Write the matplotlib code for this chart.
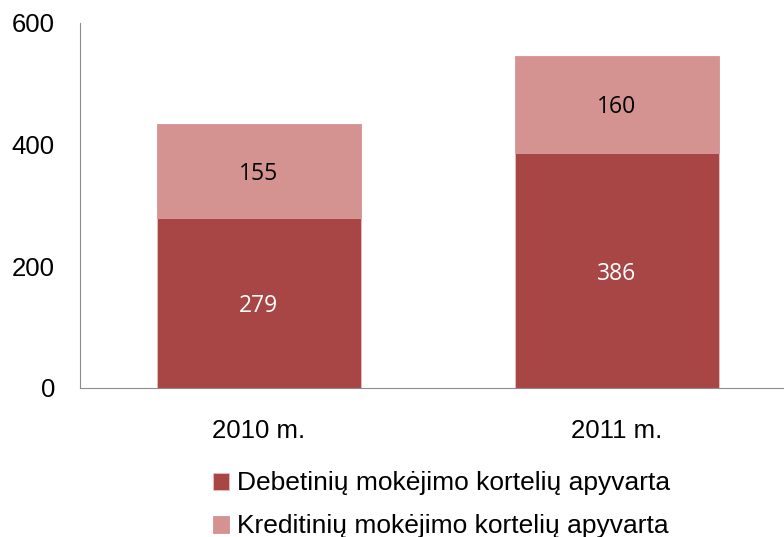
import matplotlib.pyplot as plt
import numpy as np

categories = ["2010 m.", "2011 m."]
debit = [279, 386]
credit = [155, 160]
series_names = ["Debetinių mokėjimo kortelių apyvarta", "Kreditinių mokėjimo kortelių apyvarta"]
y_ticks = [0, 200, 400, 600]

dark = "#A84645"
light = "#D49391"

fig = plt.figure(figsize=(7.84, 5.37), dpi=100)
ax = fig.add_axes([0.102, 0.2775, 0.913, 0.68])

x = np.arange(len(categories))
b1 = ax.bar(x, debit, width=0.57, color=dark, edgecolor="#E8C0BF", linewidth=0.6)
b2 = ax.bar(x, credit, width=0.57, bottom=debit, color=light, edgecolor=light, linewidth=0.6)

for i in range(len(categories)):
    ax.text(x[i], debit[i] / 2, str(debit[i]), ha="center", va="center_baseline",
            color="white", fontsize=16.5, family="Open Sans")
    ax.text(x[i], debit[i] + credit[i] / 2, str(credit[i]), ha="center", va="center_baseline",
            color="black", fontsize=16.5, family="Open Sans")

ax.set_xlim(-0.5, 1.5)
ax.set_ylim(0, 600)
ax.set_yticks(y_ticks)
ax.set_xticks(x)
ax.set_xticklabels(categories)
ax.tick_params(axis="both", length=0, labelsize=18.5)
ax.tick_params(axis="y", pad=18)
ax.tick_params(axis="x", pad=22)
for lbl in ax.get_xticklabels() + ax.get_yticklabels():
    lbl.set_family("Liberation Sans")

for side in ["top", "right"]:
    ax.spines[side].set_visible(False)
ax.spines["left"].set_color("#8C8C8C")
ax.spines["bottom"].set_color("#8C8C8C")

leg = fig.legend([b1, b2], series_names, loc="upper left", bbox_to_anchor=(0.272, 0.122),
                 frameon=False, prop={"family": "Liberation Sans", "size": 19},
                 handlelength=0.6, handleheight=0.6, handletextpad=0.3, labelspacing=0.72,
                 borderaxespad=0, borderpad=0)

fig.savefig("out.png", dpi=100)
